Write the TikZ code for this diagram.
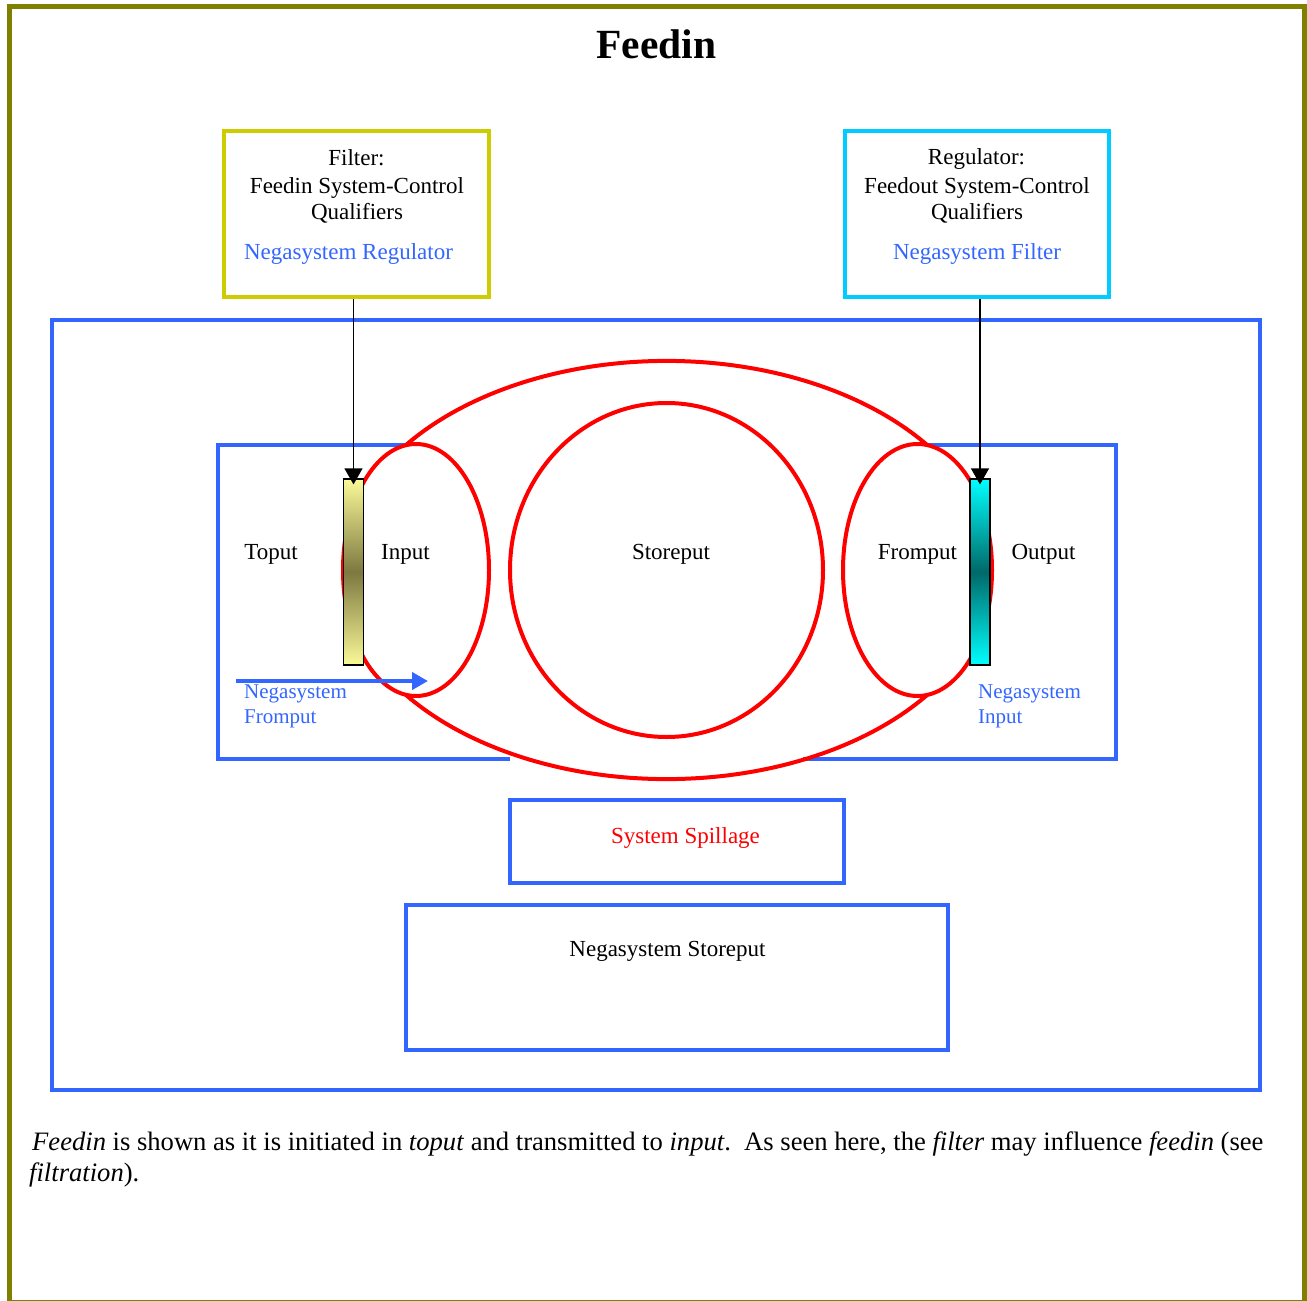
\documentclass[tikz,border=0pt]{standalone}
\usepackage{fontspec}
\setmainfont{Liberation Serif}
\usetikzlibrary{arrows.meta}

\definecolor{frameolive}{RGB}{128,128,0}
\definecolor{sysblue}{RGB}{51,102,255}
\definecolor{filteryellow}{RGB}{204,204,0}
\definecolor{regcyan}{RGB}{0,204,255}
\definecolor{barlight}{RGB}{250,250,152}
\definecolor{bardark}{RGB}{125,120,64}
\definecolor{cyanlight}{RGB}{0,255,255}
\definecolor{cyandark}{RGB}{0,105,105}

\tikzset{
  bluebox/.style={draw=sysblue, line width=4pt, inner sep=0pt},
  redline/.style={draw=red, line width=4pt},
  ctlbox/.style={line width=4pt, inner sep=0pt, minimum width=265pt, minimum height=166pt},
  lbl/.style={anchor=base, inner sep=0pt, font=\fontsize{23}{26}\selectfont},
  neglbl/.style={anchor=base west, inner sep=0pt, text=sysblue, font=\fontsize{21}{25}\selectfont},
  captionline/.style={anchor=base west, inner sep=0pt, font=\fontsize{26.6}{31}\selectfont},
  gatebar/.style={draw=black, line width=1.2pt, inner sep=0pt, minimum width=20pt, minimum height=186pt},
  conn/.style={draw=black, line width=1.2pt, -{Triangle[width=18pt,length=16pt]}},
  flowarrow/.style={draw=sysblue, line width=4pt, -{Triangle[width=17pt,length=16pt]}}
}

\begin{document}
\begin{tikzpicture}[x=1pt,y=-1pt]
  \useasboundingbox (0,0) rectangle (1307,1301);
  % outer frame
  \draw[frameolive, line width=5pt] (9.3,6.5) rectangle (1304.5,1302.5);

  % title
  \node[anchor=base, inner sep=0pt, font=\fontsize{41.5}{48}\selectfont\bfseries] (title) at (656.5,58) {Feedin};

  % control boxes
  \node[ctlbox, draw=filteryellow] (filter) at (356.5,214) {};
  \node[ctlbox, draw=regcyan, minimum width=264pt] (regulator) at (977,214) {};
  \node[lbl] (f1) at (356.5,165) {Filter:};
  \node[lbl] (f2) at (357,193) {Feedin System-Control};
  \node[lbl] (f3) at (357,219) {Qualifiers};
  \node[lbl, text=sysblue] (f4) at (348.5,259) {Negasystem Regulator};
  \node[lbl] (r1) at (976.5,164) {Regulator:};
  \node[lbl] (r2) at (977,193) {Feedout System-Control};
  \node[lbl] (r3) at (977,219) {Qualifiers};
  \node[lbl, text=sysblue] (r4) at (977,259) {Negasystem Filter};

  % system boundary
  \node[bluebox, minimum width=1208pt, minimum height=770pt] (system) at (656,705) {};
  % open side boxes
  \draw[sysblue, line width=4pt] (407,445) -- (218,445) -- (218,759) -- (510,759);
  \draw[sysblue, line width=4pt] (927,445) -- (1116,445) -- (1116,759) -- (803,759);
  % lower boxes
  \node[bluebox, minimum width=334pt, minimum height=83pt] (spill) at (677,841.5) {};
  \node[bluebox, minimum width=542pt, minimum height=145pt] (negstore) at (677,977.5) {};

  % red loops
  \draw[redline] (416,570) ellipse [x radius=73, y radius=126];
  \draw[redline] (917.5,570) ellipse [x radius=74.5, y radius=126];
  \draw[redline] (666.5,570) ellipse [x radius=156.5, y radius=167];
  \draw[redline] (406,445) arc [start angle=216.7, end angle=323.3, x radius=325, y radius=209];
  \draw[redline] (406,695) arc [start angle=143.3, end angle=36.7, x radius=325, y radius=209];

  % gates
  \node[gatebar, top color=barlight, bottom color=barlight, middle color=bardark] (lbar) at (353.5,572) {};
  \node[gatebar, top color=cyanlight, bottom color=cyanlight, middle color=cyandark] (rbar) at (980,572) {};

  % control connectors
  \draw[conn] (filter.south -| lbar.north) -- ([yshift=-6pt]lbar.north);
  \draw[conn] (regulator.south -| rbar.north) -- ([yshift=-6pt]rbar.north);

  % negasystem fromput flow
  \coordinate (nfstart) at (236,681);
  \coordinate (nfend) at (428,681);
  \draw[flowarrow] (nfstart) -- (nfend);

  % labels
  \node[lbl] (toput) at (271,559) {Toput};
  \node[lbl] (input) at (405.5,559) {Input};
  \node[lbl] (storeput) at (671,559) {Storeput};
  \node[lbl] (fromput) at (917.5,559) {Fromput};
  \node[lbl] (output) at (1043.5,559) {Output};
  \node[neglbl] (nf1) at (244,698) {Negasystem};
  \node[neglbl] (nf2) at (244,723) {Fromput};
  \node[neglbl] (ni1) at (978,698) {Negasystem};
  \node[neglbl] (ni2) at (978,723) {Input};
  \node[lbl, text=red] (spilltext) at (685.5,843) {System Spillage};
  \node[lbl] (negstoretext) at (667.5,956) {Negasystem Storeput};

  % caption
  \node[captionline] (cap1) at (32,1150) {\textit{Feedin} is shown as it is initiated in \textit{toput} and transmitted to \textit{input}.\ \ As seen here, the \textit{filter} may influence \textit{feedin} (see};
  \node[captionline] (cap2) at (29,1181) {\textit{filtration}).};
\end{tikzpicture}
\end{document}
